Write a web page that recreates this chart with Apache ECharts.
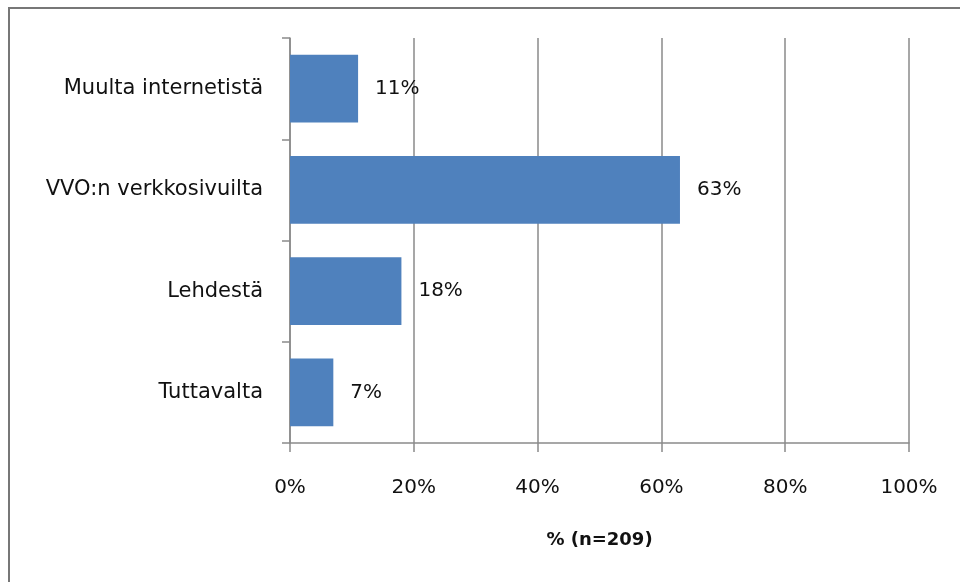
<!DOCTYPE html>
<html>
<head>
<meta charset="utf-8">
<script src="https://cdn.jsdelivr.net/npm/echarts@6/dist/echarts.min.js"></script>
<style>
  html, body { margin: 0; padding: 0; background: #fff; }
  #chart { width: 960px; height: 582px; }
</style>
</head>
<body>
<div id="chart"></div>
<script>
// Where respondents found out (share of answers, %)
const categories = ['Muulta internetistä', 'VVO:n verkkosivuilta', 'Lehdestä', 'Tuttavalta'];
const shares = [11, 63, 18, 7];
const axisTitle = '% (n=209)';

const gray = '#8a8a8a';
const chart = echarts.init(document.getElementById('chart'));

chart.setOption({
  animation: false,
  backgroundColor: '#fff',
  graphic: [{
    type: 'polyline',
    shape: { points: [[9, 590], [9, 8], [970, 8]] },
    style: { stroke: '#777', lineWidth: 2, fill: null }
  }],
  grid: { left: 290, right: 51, top: 38, bottom: 139, containLabel: false },
  xAxis: {
    type: 'value',
    min: 0,
    max: 100,
    interval: 20,
    axisLine: { show: true, lineStyle: { color: gray, width: 1.5 } },
    axisTick: { show: true, length: 9, lineStyle: { color: gray, width: 1.5 } },
    splitLine: { show: true, lineStyle: { color: gray, width: 1.5 } },
    axisLabel: {
      formatter: '{value}%',
      margin: 35,
      color: '#111',
      fontFamily: 'DejaVu Sans',
      fontSize: 20
    },
    name: axisTitle,
    nameLocation: 'middle',
    nameGap: 88,
    nameTextStyle: {
      color: '#111',
      fontFamily: 'DejaVu Sans',
      fontWeight: 'bold',
      fontSize: 18
    }
  },
  yAxis: {
    type: 'category',
    data: categories,
    inverse: true,
    axisLine: { show: true, lineStyle: { color: gray, width: 1.5 } },
    axisTick: { show: true, length: 8, lineStyle: { color: gray, width: 1.5 } },
    axisLabel: {
      margin: 27,
      color: '#111',
      fontFamily: 'DejaVu Sans',
      fontSize: 21,
      padding: [4, 0, 0, 0]
    }
  },
  series: [{
    type: 'bar',
    data: shares,
    barCategoryGap: '33%',
    itemStyle: { color: '#4F81BD' },
    label: {
      show: true,
      position: 'right',
      distance: 17,
      formatter: '{c}%',
      color: '#111',
      fontFamily: 'DejaVu Sans',
      fontSize: 20,
      padding: [4, 0, 0, 0]
    }
  }]
});
</script>
</body>
</html>
